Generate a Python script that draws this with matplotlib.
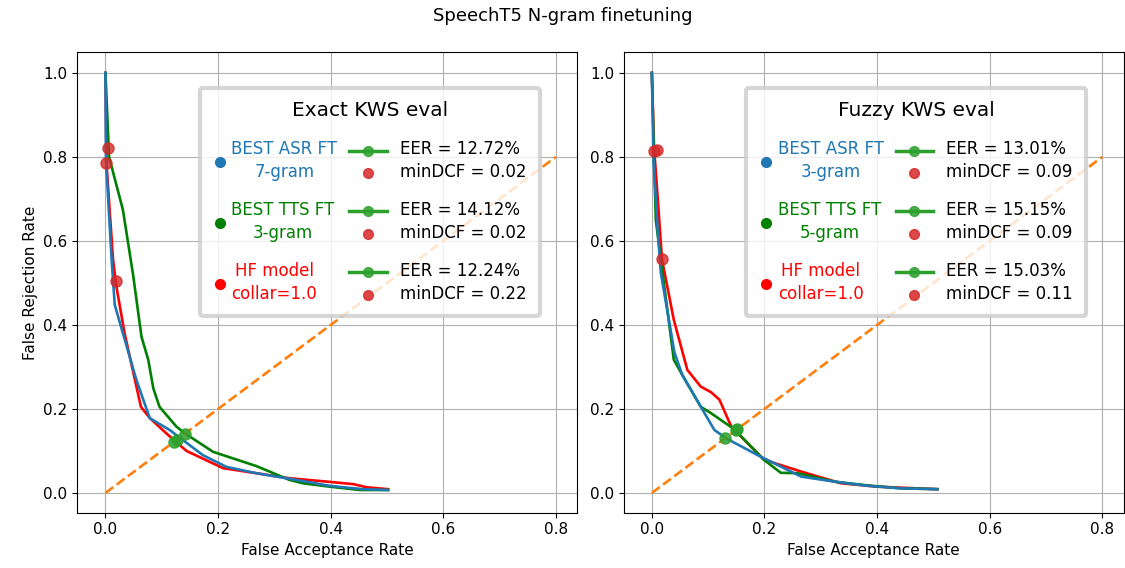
import matplotlib
matplotlib.use("Agg")
import matplotlib.pyplot as plt
from matplotlib.lines import Line2D
from matplotlib.ticker import MultipleLocator
from matplotlib.legend_handler import HandlerBase

# ---- Exact KWS eval (FAR, FRR) ----
exact_asr_far = [0.0, 0.001, 0.011, 0.0165, 0.031, 0.055, 0.0787, 0.114, 0.173, 0.215, 0.268, 0.339, 0.398, 0.457, 0.502]
exact_asr_frr = [1.0, 0.79, 0.555, 0.448, 0.38, 0.269, 0.178, 0.15, 0.09, 0.062, 0.047, 0.031, 0.017, 0.009, 0.007]
exact_tts_far = [0.0, 0.0064, 0.031, 0.049, 0.064, 0.076, 0.085, 0.096, 0.126, 0.141, 0.191, 0.268, 0.327, 0.351, 0.398, 0.452, 0.502]
exact_tts_frr = [1.0, 0.80, 0.674, 0.52, 0.372, 0.317, 0.249, 0.205, 0.158, 0.142, 0.098, 0.064, 0.031, 0.023, 0.015, 0.007, 0.007]
exact_hf_far = [0.0, 0.0018, 0.0135, 0.0195, 0.034, 0.063, 0.079, 0.108, 0.144, 0.209, 0.327, 0.393, 0.44, 0.464, 0.502]
exact_hf_frr = [1.0, 0.785, 0.555, 0.491, 0.38, 0.205, 0.178, 0.142, 0.100, 0.059, 0.035, 0.027, 0.021, 0.0135, 0.009]
exact_eer = [12.72, 14.12, 12.24]          # en %
exact_mindcf = [0.02, 0.02, 0.22]
exact_dcf_far = [0.0018, 0.0046, 0.0195]   # punto donde se alcanza el minDCF
exact_dcf_frr = [0.785, 0.822, 0.505]
exact_ngram = ["7-gram", "3-gram"]

# ---- Fuzzy KWS eval ----
fuzzy_asr_far = [0.0, 0.003, 0.01, 0.016, 0.028, 0.04, 0.054, 0.087, 0.111, 0.132, 0.188, 0.265, 0.324, 0.383, 0.442, 0.507]
fuzzy_asr_frr = [1.0, 0.79, 0.634, 0.523, 0.43, 0.335, 0.281, 0.205, 0.150, 0.130, 0.090, 0.039, 0.027, 0.017, 0.011, 0.009]
fuzzy_tts_far = [0.0, 0.004, 0.007, 0.016, 0.039, 0.054, 0.087, 0.105, 0.146, 0.199, 0.229, 0.259, 0.324, 0.383, 0.442, 0.507]
fuzzy_tts_frr = [1.0, 0.793, 0.65, 0.555, 0.317, 0.281, 0.205, 0.19, 0.152, 0.079, 0.048, 0.047, 0.027, 0.018, 0.011, 0.009]
fuzzy_hf_far = [0.0, 0.004, 0.01, 0.018, 0.039, 0.063, 0.087, 0.105, 0.12, 0.141, 0.199, 0.265, 0.336, 0.4, 0.507]
fuzzy_hf_frr = [1.0, 0.82, 0.71, 0.556, 0.412, 0.293, 0.253, 0.24, 0.222, 0.158, 0.079, 0.051, 0.023, 0.015, 0.009]
fuzzy_eer = [13.01, 15.15, 15.03]
fuzzy_mindcf = [0.09, 0.09, 0.11]
fuzzy_dcf_far = [0.004, 0.009, 0.018]
fuzzy_dcf_frr = [0.813, 0.817, 0.556]
fuzzy_ngram = ["3-gram", "5-gram"]

colores = ["tab:blue", "green", "red"]


class Metricas:  # handle vacio para la pareja EER / minDCF de la leyenda
    pass


class HandlerMetricas(HandlerBase):
    # linea verde con punto (EER) arriba y punto rojo (minDCF) abajo
    def create_artists(self, legend, orig_handle, xdescent, ydescent, width, height, fontsize, trans):
        yc = (height - ydescent) / 2
        sep = 0.68 * fontsize
        x1 = -xdescent + width - 0.48 * fontsize
        x0 = x1 - 2.25 * fontsize
        xm = (x0 + x1) / 2
        linea = Line2D([x0, x1], [yc + sep, yc + sep], color="tab:green", lw=2.5, transform=trans)
        p_eer = Line2D([xm], [yc + sep], marker="o", ms=7, ls="none", color="tab:green", alpha=0.85, transform=trans)
        p_dcf = Line2D([xm], [yc - sep], marker="o", ms=7, ls="none", color="tab:red", alpha=0.85, transform=trans)
        return [linea, p_eer, p_dcf]


def panel(ax, curvas, eer, mindcf, dcf_far, dcf_frr, ngram, titulo):
    # curvas en orden ASR, TTS, HF; se dibuja HF primero para que ASR quede arriba
    for (far, frr), c in reversed(list(zip(curvas, colores))):
        ax.plot(far, frr, color=c, lw=1.9)
    ax.plot([0, 0.8], [0, 0.8], "--", color="tab:orange", lw=1.9)
    for e in eer:
        ax.plot([e / 100], [e / 100], "o", color="tab:green", ms=8, alpha=0.85)
    ax.plot(dcf_far, dcf_frr, "o", color="tab:red", ms=8, alpha=0.8, ls="none")

    ax.set_xlim(-0.05, 0.838)
    ax.set_ylim(-0.047, 1.049)
    ax.xaxis.set_major_locator(MultipleLocator(0.2))
    ax.yaxis.set_major_locator(MultipleLocator(0.2))
    ax.grid(True)
    ax.tick_params(labelsize=11)
    ax.set_xlabel("False Acceptance Rate", fontsize=11)

    modelos = [Line2D([], [], color=c, marker="o", ls="none", ms=7) for c in colores]
    etiquetas = ["BEST ASR FT\n" + ngram[0], "BEST TTS FT\n" + ngram[1], "HF model\ncollar=1.0"]
    metricas = [Metricas() for _ in eer]
    etiquetas += ["EER = %.2f%%\nminDCF = %.2f" % (e, d) for e, d in zip(eer, mindcf)]
    leg = ax.legend(modelos + metricas, etiquetas, ncol=2, title=titulo,
                    handler_map={Metricas: HandlerMetricas()},
                    loc="upper right", bbox_to_anchor=(0.925, 0.9225), borderaxespad=0,
                    fontsize=12, title_fontsize=14.5, handlelength=0.8, handletextpad=0.3,
                    columnspacing=2.65, labelspacing=1.2, borderpad=0.8)
    leg.get_frame().set_linewidth(3)
    for i, t in enumerate(leg.get_texts()):
        t.set_linespacing(1.35)
        if i < 3:
            t.set_color(colores[i])
            t.set_multialignment("center")


fig = plt.figure(figsize=(11.25, 5.68), dpi=100)
ax1 = fig.add_axes([77.3 / 1125, 1 - 512.7 / 568, 500 / 1125, 460.4 / 568])
ax2 = fig.add_axes([623.7 / 1125, 1 - 512.7 / 568, 500 / 1125, 460.4 / 568])

panel(ax1, [(exact_asr_far, exact_asr_frr), (exact_tts_far, exact_tts_frr), (exact_hf_far, exact_hf_frr)],
      exact_eer, exact_mindcf, exact_dcf_far, exact_dcf_frr, exact_ngram, "Exact KWS eval")
panel(ax2, [(fuzzy_asr_far, fuzzy_asr_frr), (fuzzy_tts_far, fuzzy_tts_frr), (fuzzy_hf_far, fuzzy_hf_frr)],
      fuzzy_eer, fuzzy_mindcf, fuzzy_dcf_far, fuzzy_dcf_frr, fuzzy_ngram, "Fuzzy KWS eval")
ax1.set_ylabel("False Rejection Rate", fontsize=11)

fig.suptitle("SpeechT5 N-gram finetuning", fontsize=13, y=0.971, va="center")
fig.savefig("out.png", dpi=100)
